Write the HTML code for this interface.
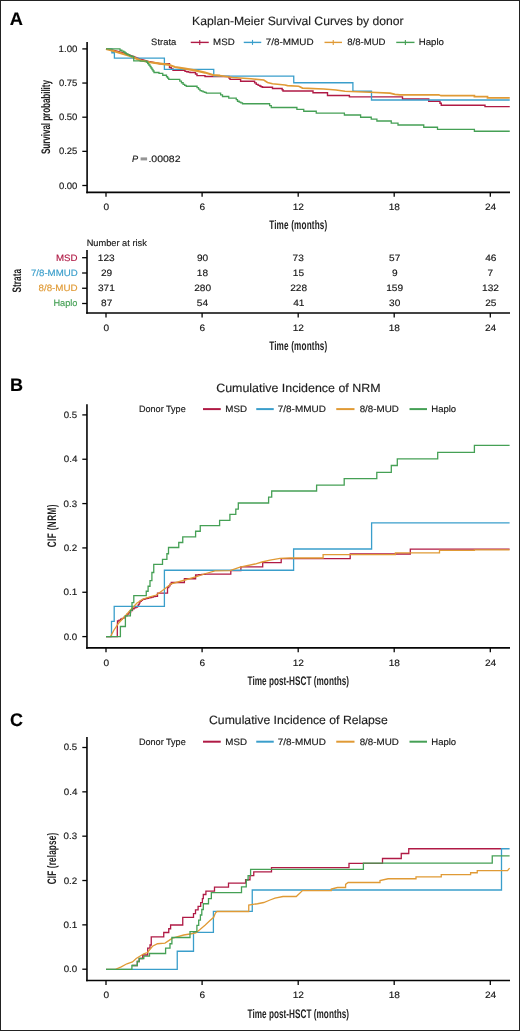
<!DOCTYPE html>
<html><head><meta charset="utf-8"><title>Survival and cumulative incidence by donor</title>
<style>
html,body{margin:0;padding:0;background:#fff;}
body{width:520px;height:1031px;overflow:hidden;}
svg{display:block;font-family:"Liberation Sans", sans-serif;will-change:transform;text-rendering:geometricPrecision;}
</style></head>
<body>
<svg width="520" height="1031" viewBox="0 0 520 1031" fill="#161616">
<rect x="0" y="0" width="520" height="1031" fill="#fff"/>
<text id="lblA" x="9.7" y="25" font-size="18.2" fill="#000" font-weight="bold" textLength="13.19" lengthAdjust="spacingAndGlyphs" stroke="#000" stroke-width="0.15">A</text>
<text id="lblB" x="9.97" y="391" font-size="18.2" fill="#000" font-weight="bold" textLength="13.02" lengthAdjust="spacingAndGlyphs" stroke="#000" stroke-width="0.15">B</text>
<text id="lblC" x="9.94" y="726" font-size="18.2" fill="#000" font-weight="bold" textLength="12.97" lengthAdjust="spacingAndGlyphs" stroke="#000" stroke-width="0.15">C</text>
<text id="titA" x="192.09" y="25" font-size="12" fill="#1e1e1e" textLength="211.46" lengthAdjust="spacingAndGlyphs" stroke="#1e1e1e" stroke-width="0.15">Kaplan-Meier Survival Curves by donor</text>
<text id="legA0" x="151.14" y="45" font-size="9.2" textLength="25.12" lengthAdjust="spacingAndGlyphs" stroke="#161616" stroke-width="0.15">Strata</text>
<line x1="190.75" y1="42.4" x2="208.75" y2="42.4" stroke="#b01a45" stroke-width="1.4"/>
<line x1="199.75" y1="39.9" x2="199.75" y2="44.9" stroke="#b01a45" stroke-width="1.1"/>
<text id="legA1" x="213.12" y="45" font-size="9.2" textLength="21.54" lengthAdjust="spacingAndGlyphs" stroke="#161616" stroke-width="0.15">MSD</text>
<line x1="243.75" y1="42.4" x2="261.25" y2="42.4" stroke="#3a9ecb" stroke-width="1.4"/>
<line x1="252.5" y1="39.9" x2="252.5" y2="44.9" stroke="#3a9ecb" stroke-width="1.1"/>
<text id="legA2" x="265.74" y="45" font-size="9.2" textLength="47.84" lengthAdjust="spacingAndGlyphs" stroke="#161616" stroke-width="0.15">7/8-MMUD</text>
<line x1="324.5" y1="42.4" x2="342" y2="42.4" stroke="#e09a35" stroke-width="1.4"/>
<line x1="333.25" y1="39.9" x2="333.25" y2="44.9" stroke="#e09a35" stroke-width="1.1"/>
<text id="legA3" x="347.15" y="45" font-size="9.2" textLength="38.38" lengthAdjust="spacingAndGlyphs" stroke="#161616" stroke-width="0.15">8/8-MUD</text>
<line x1="396.25" y1="42.4" x2="414.5" y2="42.4" stroke="#45a055" stroke-width="1.4"/>
<line x1="405.38" y1="39.9" x2="405.38" y2="44.9" stroke="#45a055" stroke-width="1.1"/>
<text id="legA4" x="418.78" y="45" font-size="9.2" textLength="25.21" lengthAdjust="spacingAndGlyphs" stroke="#161616" stroke-width="0.15">Haplo</text>
<line x1="87.1" y1="42" x2="87.1" y2="193.15" stroke="#050505" stroke-width="1.6"/>
<line x1="86.3" y1="192.35" x2="510" y2="192.35" stroke="#050505" stroke-width="1.6"/>
<line x1="82.3" y1="48.9" x2="87" y2="48.9" stroke="#050505" stroke-width="1.3"/>
<text id="yA0" x="58.62" y="52" font-size="9.2" textLength="18.79" lengthAdjust="spacingAndGlyphs" stroke="#161616" stroke-width="0.15">1.00</text>
<line x1="82.3" y1="83.05" x2="87" y2="83.05" stroke="#050505" stroke-width="1.3"/>
<text id="yA1" x="58.93" y="86" font-size="9.2" textLength="18.48" lengthAdjust="spacingAndGlyphs" stroke="#161616" stroke-width="0.15">0.75</text>
<line x1="82.3" y1="117.2" x2="87" y2="117.2" stroke="#050505" stroke-width="1.3"/>
<text id="yA2" x="58.92" y="120" font-size="9.2" textLength="18.5" lengthAdjust="spacingAndGlyphs" stroke="#161616" stroke-width="0.15">0.50</text>
<line x1="82.3" y1="151.35" x2="87" y2="151.35" stroke="#050505" stroke-width="1.3"/>
<text id="yA3" x="58.93" y="154" font-size="9.2" textLength="18.48" lengthAdjust="spacingAndGlyphs" stroke="#161616" stroke-width="0.15">0.25</text>
<line x1="82.3" y1="185.5" x2="87" y2="185.5" stroke="#050505" stroke-width="1.3"/>
<text id="yA4" x="58.92" y="189" font-size="9.2" textLength="18.5" lengthAdjust="spacingAndGlyphs" stroke="#161616" stroke-width="0.15">0.00</text>
<line x1="106" y1="192.35" x2="106" y2="196.8" stroke="#050505" stroke-width="1.3"/>
<text id="xA0" x="106.37" y="210" font-size="9.2" text-anchor="middle" textLength="5.63" lengthAdjust="spacingAndGlyphs" stroke="#161616" stroke-width="0.15">0</text>
<line x1="202.1" y1="192.35" x2="202.1" y2="196.8" stroke="#050505" stroke-width="1.3"/>
<text id="xA1" x="202.39" y="210" font-size="9.2" text-anchor="middle" textLength="5.63" lengthAdjust="spacingAndGlyphs" stroke="#161616" stroke-width="0.15">6</text>
<line x1="298.2" y1="192.35" x2="298.2" y2="196.8" stroke="#050505" stroke-width="1.3"/>
<text id="xA2" x="298.39" y="210" font-size="9.2" text-anchor="middle" textLength="11.25" lengthAdjust="spacingAndGlyphs" stroke="#161616" stroke-width="0.15">12</text>
<line x1="394.2" y1="192.35" x2="394.2" y2="196.8" stroke="#050505" stroke-width="1.3"/>
<text id="xA3" x="394.29" y="210" font-size="9.2" text-anchor="middle" textLength="11.25" lengthAdjust="spacingAndGlyphs" stroke="#161616" stroke-width="0.15">18</text>
<line x1="490.3" y1="192.35" x2="490.3" y2="196.8" stroke="#050505" stroke-width="1.3"/>
<text id="xA4" x="490.62" y="210" font-size="9.2" text-anchor="middle" textLength="11.25" lengthAdjust="spacingAndGlyphs" stroke="#161616" stroke-width="0.15">24</text>
<text id="tmA" transform="translate(269.14,229) scale(0.66,1)" x="0" y="0" font-size="12.4" textLength="88.15" lengthAdjust="spacing" font-weight="bold" fill="#222">Time (months)</text>
<text id="ylabA" transform="translate(50,117.02) rotate(-90) scale(0.66,1)" x="0" y="0" font-size="12.4" text-anchor="middle" textLength="112.03" lengthAdjust="spacing" font-weight="bold" fill="#222">Survival probability</text>
<text id="pP" x="132.11" y="162" font-size="9.2" font-style="italic" stroke="#161616" stroke-width="0.15">P</text>
<rect x="140.6" y="157.4" width="6.5" height="3.0" fill="#959595"/>
<text id="pV" x="148.43" y="162" font-size="9.2" textLength="32.14" lengthAdjust="spacingAndGlyphs" stroke="#161616" stroke-width="0.15">.00082</text>
<path d="M106 48.9 L110 49.5 L118 51.5 L125 53.5 L132 56 L140 58.8 L150 61.8 L160 63.8 H169.5 V67.5 H171.25 V68.85 H173 V70.2 H183.5 H185 V71.4 H186.67 V71.77 H188.33 V72.13 H190 V72.5 H194 H195.5 V74.05 H197 V75.6 H205 V76.5 H228 H229 V77.95 H230 V79.4 H240.6 V81.25 H253 H254.62 V82.83 H256.25 V84.4 H258.12 V85.33 H260 V86.25 H261.25 V86.75 H262.5 V87.25 H272.5 V88.5 H281.25 H282.12 V89.75 H283 V91 H313 V92.75 H327.5 V95.5 H349.4 V96.9 H402.5 V99 H428.75 V101.25 H438.75 H440 V103.22 H441.25 V105.2 H485 V106.6 H509.75" fill="none" stroke="#b01a45" stroke-width="1.4"/>
<path d="M106 48.9 H111.9 V52.75 H114.4 V58.1 H164.4 V69.4 H213.75 V76.1 H293.75 V82.75 H352.9 V91.25 H371.5 V100 H509.75" fill="none" stroke="#3a9ecb" stroke-width="1.3"/>
<path d="M106 48.9 L110 50 L120 53 L130 56 L140 60.3 L150 62.2 L160 63.6 L168 64.6 L175 67 L185 68.6 L195 70.4 L205 72.6 L213 75 L220 75.6" fill="none" stroke="#e09a35" stroke-width="2.1"/>
<path d="M220 75.6 L232.5 77.5 L251 78.75 L263.75 80 L267.5 82.5 L272.5 83.75 L285 85 L287.5 85.6 L298.75 86.25 L302.5 88.1 L323.75 89 L336 90 L345 91.25 L370 92.25 L390 93.1 L395 94.4 L400 94.8 H438.75 L441 95.7 H474.4 V96.6 H487.5 V97.9 H509.75" fill="none" stroke="#e09a35" stroke-width="1.7"/>
<path d="M106 48.9 H118.75 H120 V50.25 H121.88 V51.12 H123.75 V52 H125 V53 H126.25 V54 H127.92 V54.83 H129.58 V55.67 H131.25 V56.5 H133.75 V60.9 H140.25 V61.1 H146.5 V62 H147.67 V63.5 H148.83 V65 H150 V66.5 H151 V68 H152 V69.5 H153 V71 H154 V72.5 H159 V73.4 H162.75 V75.25 H166.5 V76.75 H167.62 V78.08 H168.75 V79.4 H178.1 H179.77 V81.07 H181.43 V82.73 H183.1 V84.4 H184.68 V85.33 H186.25 V86.25 H195.6 H197.07 V87.7 H198.53 V89.15 H200 V90.6 H201.56 V91.22 H203.12 V91.85 H204.69 V92.47 H206.25 V93.1 H218.75 H220.62 V94.8 H222.5 V96.5 H228.75 V98.1 H235 H236.25 V99.67 H237.5 V101.25 H239.17 V102.08 H240.83 V102.92 H242.5 V103.75 H268 H269.62 V105.62 H271.25 V107.5 H296.9 V109.4 H303.75 V111.25 H316.25 V113.1 H344.4 V115 H360.6 V117.25 H371.25 V119.1 H376.9 V121 H391.25 V123.1 H398 V125 H423.75 V127.25 H437.5 V129.4 H474.4 V131.25 H509.75" fill="none" stroke="#45a055" stroke-width="1.3"/>
<text id="nar" x="86.66" y="246" font-size="9.2" textLength="60.11" lengthAdjust="spacingAndGlyphs" stroke="#161616" stroke-width="0.15">Number at risk</text>
<line x1="87" y1="250" x2="87" y2="313.85" stroke="#050505" stroke-width="1.6"/>
<line x1="86.2" y1="313.05" x2="510" y2="313.05" stroke="#050505" stroke-width="1.6"/>
<line x1="82.1" y1="257.7" x2="87" y2="257.7" stroke="#050505" stroke-width="1.3"/>
<text id="rl0" x="56.05" y="261" font-size="9.2" fill="#b01a45" textLength="21.55" lengthAdjust="spacingAndGlyphs" stroke="#b01a45" stroke-width="0.15">MSD</text>
<text id="rn00" x="106.3" y="261" font-size="9.2" text-anchor="middle" textLength="16.88" lengthAdjust="spacingAndGlyphs" stroke="#161616" stroke-width="0.15">123</text>
<text id="rn01" x="202.57" y="261" font-size="9.2" text-anchor="middle" textLength="11.25" lengthAdjust="spacingAndGlyphs" stroke="#161616" stroke-width="0.15">90</text>
<text id="rn02" x="298.15" y="261" font-size="9.2" text-anchor="middle" textLength="11.25" lengthAdjust="spacingAndGlyphs" stroke="#161616" stroke-width="0.15">73</text>
<text id="rn03" x="394.66" y="261" font-size="9.2" text-anchor="middle" textLength="11.25" lengthAdjust="spacingAndGlyphs" stroke="#161616" stroke-width="0.15">57</text>
<text id="rn04" x="490.79" y="261" font-size="9.2" text-anchor="middle" textLength="11.25" lengthAdjust="spacingAndGlyphs" stroke="#161616" stroke-width="0.15">46</text>
<line x1="82.1" y1="273" x2="87" y2="273" stroke="#050505" stroke-width="1.3"/>
<text id="rl1" x="30.98" y="276" font-size="9.2" fill="#3a9ecb" textLength="46.72" lengthAdjust="spacingAndGlyphs" stroke="#3a9ecb" stroke-width="0.15">7/8-MMUD</text>
<text id="rn10" x="106.5" y="276" font-size="9.2" text-anchor="middle" textLength="11.25" lengthAdjust="spacingAndGlyphs" stroke="#161616" stroke-width="0.15">29</text>
<text id="rn11" x="202.42" y="276" font-size="9.2" text-anchor="middle" textLength="11.25" lengthAdjust="spacingAndGlyphs" stroke="#161616" stroke-width="0.15">18</text>
<text id="rn12" x="298.4" y="276" font-size="9.2" text-anchor="middle" textLength="11.25" lengthAdjust="spacingAndGlyphs" stroke="#161616" stroke-width="0.15">15</text>
<text id="rn13" x="394.84" y="276" font-size="9.2" text-anchor="middle" textLength="5.63" lengthAdjust="spacingAndGlyphs" stroke="#161616" stroke-width="0.15">9</text>
<text id="rn14" x="490.25" y="276" font-size="9.2" text-anchor="middle" textLength="5.63" lengthAdjust="spacingAndGlyphs" stroke="#161616" stroke-width="0.15">7</text>
<line x1="82.1" y1="288.25" x2="87" y2="288.25" stroke="#050505" stroke-width="1.3"/>
<text id="rl2" x="38.51" y="291" font-size="9.2" fill="#e09a35" textLength="39.18" lengthAdjust="spacingAndGlyphs" stroke="#e09a35" stroke-width="0.15">8/8-MUD</text>
<text id="rn20" x="106.38" y="291" font-size="9.2" text-anchor="middle" textLength="16.88" lengthAdjust="spacingAndGlyphs" stroke="#161616" stroke-width="0.15">371</text>
<text id="rn21" x="202.61" y="291" font-size="9.2" text-anchor="middle" textLength="16.88" lengthAdjust="spacingAndGlyphs" stroke="#161616" stroke-width="0.15">280</text>
<text id="rn22" x="298.6" y="291" font-size="9.2" text-anchor="middle" textLength="16.88" lengthAdjust="spacingAndGlyphs" stroke="#161616" stroke-width="0.15">228</text>
<text id="rn23" x="394.64" y="291" font-size="9.2" text-anchor="middle" textLength="16.88" lengthAdjust="spacingAndGlyphs" stroke="#161616" stroke-width="0.15">159</text>
<text id="rn24" x="490.53" y="291" font-size="9.2" text-anchor="middle" textLength="16.88" lengthAdjust="spacingAndGlyphs" stroke="#161616" stroke-width="0.15">132</text>
<line x1="82.1" y1="303.5" x2="87" y2="303.5" stroke="#050505" stroke-width="1.3"/>
<text id="rl3" x="53.41" y="306" font-size="9.2" fill="#45a055" textLength="24.02" lengthAdjust="spacingAndGlyphs" stroke="#45a055" stroke-width="0.15">Haplo</text>
<text id="rn30" x="106.66" y="306" font-size="9.2" text-anchor="middle" textLength="11.25" lengthAdjust="spacingAndGlyphs" stroke="#161616" stroke-width="0.15">87</text>
<text id="rn31" x="202.46" y="306" font-size="9.2" text-anchor="middle" textLength="11.25" lengthAdjust="spacingAndGlyphs" stroke="#161616" stroke-width="0.15">54</text>
<text id="rn32" x="298.79" y="306" font-size="9.2" text-anchor="middle" textLength="11.25" lengthAdjust="spacingAndGlyphs" stroke="#161616" stroke-width="0.15">41</text>
<text id="rn33" x="394.68" y="306" font-size="9.2" text-anchor="middle" textLength="11.25" lengthAdjust="spacingAndGlyphs" stroke="#161616" stroke-width="0.15">30</text>
<text id="rn34" x="490.86" y="306" font-size="9.2" text-anchor="middle" textLength="11.25" lengthAdjust="spacingAndGlyphs" stroke="#161616" stroke-width="0.15">25</text>
<line x1="106" y1="313.05" x2="106" y2="317.5" stroke="#050505" stroke-width="1.3"/>
<text id="xR0" x="106.37" y="331" font-size="9.2" text-anchor="middle" textLength="5.63" lengthAdjust="spacingAndGlyphs" stroke="#161616" stroke-width="0.15">0</text>
<line x1="202.1" y1="313.05" x2="202.1" y2="317.5" stroke="#050505" stroke-width="1.3"/>
<text id="xR1" x="202.39" y="331" font-size="9.2" text-anchor="middle" textLength="5.63" lengthAdjust="spacingAndGlyphs" stroke="#161616" stroke-width="0.15">6</text>
<line x1="298.2" y1="313.05" x2="298.2" y2="317.5" stroke="#050505" stroke-width="1.3"/>
<text id="xR2" x="298.39" y="331" font-size="9.2" text-anchor="middle" textLength="11.25" lengthAdjust="spacingAndGlyphs" stroke="#161616" stroke-width="0.15">12</text>
<line x1="394.2" y1="313.05" x2="394.2" y2="317.5" stroke="#050505" stroke-width="1.3"/>
<text id="xR3" x="394.29" y="331" font-size="9.2" text-anchor="middle" textLength="11.25" lengthAdjust="spacingAndGlyphs" stroke="#161616" stroke-width="0.15">18</text>
<line x1="490.3" y1="313.05" x2="490.3" y2="317.5" stroke="#050505" stroke-width="1.3"/>
<text id="xR4" x="490.62" y="331" font-size="9.2" text-anchor="middle" textLength="11.25" lengthAdjust="spacingAndGlyphs" stroke="#161616" stroke-width="0.15">24</text>
<text id="tmR" transform="translate(269.14,350) scale(0.66,1)" x="0" y="0" font-size="12.4" textLength="88.15" lengthAdjust="spacing" font-weight="bold" fill="#222">Time (months)</text>
<text id="ylabR" transform="translate(21,280.71) rotate(-90) scale(0.66,1)" x="0" y="0" font-size="12.4" text-anchor="middle" textLength="35.92" lengthAdjust="spacing" font-weight="bold" fill="#222">Strata</text>
<text id="titB" x="216.21" y="392" font-size="12" fill="#1e1e1e" textLength="164.3" lengthAdjust="spacingAndGlyphs" stroke="#1e1e1e" stroke-width="0.15">Cumulative Incidence of NRM</text>
<text id="legB0" x="138.93" y="412" font-size="9.2" textLength="46.77" lengthAdjust="spacingAndGlyphs" stroke="#161616" stroke-width="0.15">Donor Type</text>
<line x1="203" y1="409.1" x2="220.75" y2="409.1" stroke="#b01a45" stroke-width="2"/>
<text id="legB1" x="225.25" y="412" font-size="9.2" textLength="21.71" lengthAdjust="spacingAndGlyphs" stroke="#161616" stroke-width="0.15">MSD</text>
<line x1="256.25" y1="409.1" x2="273.75" y2="409.1" stroke="#3a9ecb" stroke-width="2"/>
<text id="legB2" x="277.79" y="412" font-size="9.2" textLength="48.05" lengthAdjust="spacingAndGlyphs" stroke="#161616" stroke-width="0.15">7/8-MMUD</text>
<line x1="336.25" y1="409.1" x2="354.5" y2="409.1" stroke="#e09a35" stroke-width="2"/>
<text id="legB3" x="359.65" y="412" font-size="9.2" textLength="39.23" lengthAdjust="spacingAndGlyphs" stroke="#161616" stroke-width="0.15">8/8-MUD</text>
<line x1="409.5" y1="409.1" x2="427" y2="409.1" stroke="#45a055" stroke-width="2"/>
<text id="legB4" x="431.27" y="412" font-size="9.2" textLength="24.88" lengthAdjust="spacingAndGlyphs" stroke="#161616" stroke-width="0.15">Haplo</text>
<line x1="86.95" y1="404.3" x2="86.95" y2="648.7" stroke="#050505" stroke-width="1.6"/>
<line x1="86.15" y1="647.9" x2="510" y2="647.9" stroke="#050505" stroke-width="1.6"/>
<line x1="82.3" y1="636.6" x2="87" y2="636.6" stroke="#050505" stroke-width="1.3"/>
<text id="yB0" x="63.67" y="640" font-size="9.2" textLength="13.52" lengthAdjust="spacingAndGlyphs" stroke="#161616" stroke-width="0.15">0.0</text>
<line x1="82.3" y1="592.26" x2="87" y2="592.26" stroke="#050505" stroke-width="1.3"/>
<text id="yB1" x="63.58" y="595" font-size="9.2" textLength="13.73" lengthAdjust="spacingAndGlyphs" stroke="#161616" stroke-width="0.15">0.1</text>
<line x1="82.3" y1="547.92" x2="87" y2="547.92" stroke="#050505" stroke-width="1.3"/>
<text id="yB2" x="63.65" y="551" font-size="9.2" textLength="13.65" lengthAdjust="spacingAndGlyphs" stroke="#161616" stroke-width="0.15">0.2</text>
<line x1="82.3" y1="503.58" x2="87" y2="503.58" stroke="#050505" stroke-width="1.3"/>
<text id="yB3" x="63.57" y="507" font-size="9.2" textLength="13.52" lengthAdjust="spacingAndGlyphs" stroke="#161616" stroke-width="0.15">0.3</text>
<line x1="82.3" y1="459.24" x2="87" y2="459.24" stroke="#050505" stroke-width="1.3"/>
<text id="yB4" x="63.72" y="462" font-size="9.2" textLength="13.62" lengthAdjust="spacingAndGlyphs" stroke="#161616" stroke-width="0.15">0.4</text>
<line x1="82.3" y1="414.9" x2="87" y2="414.9" stroke="#050505" stroke-width="1.3"/>
<text id="yB5" x="63.66" y="418" font-size="9.2" textLength="13.42" lengthAdjust="spacingAndGlyphs" stroke="#161616" stroke-width="0.15">0.5</text>
<line x1="106" y1="647.9" x2="106" y2="652.3" stroke="#050505" stroke-width="1.3"/>
<text id="xB0" x="106.37" y="666" font-size="9.2" text-anchor="middle" textLength="5.63" lengthAdjust="spacingAndGlyphs" stroke="#161616" stroke-width="0.15">0</text>
<line x1="202.1" y1="647.9" x2="202.1" y2="652.3" stroke="#050505" stroke-width="1.3"/>
<text id="xB1" x="202.39" y="666" font-size="9.2" text-anchor="middle" textLength="5.63" lengthAdjust="spacingAndGlyphs" stroke="#161616" stroke-width="0.15">6</text>
<line x1="298.2" y1="647.9" x2="298.2" y2="652.3" stroke="#050505" stroke-width="1.3"/>
<text id="xB2" x="298.39" y="666" font-size="9.2" text-anchor="middle" textLength="11.25" lengthAdjust="spacingAndGlyphs" stroke="#161616" stroke-width="0.15">12</text>
<line x1="394.2" y1="647.9" x2="394.2" y2="652.3" stroke="#050505" stroke-width="1.3"/>
<text id="xB3" x="394.29" y="666" font-size="9.2" text-anchor="middle" textLength="11.25" lengthAdjust="spacingAndGlyphs" stroke="#161616" stroke-width="0.15">18</text>
<line x1="490.3" y1="647.9" x2="490.3" y2="652.3" stroke="#050505" stroke-width="1.3"/>
<text id="xB4" x="490.62" y="666" font-size="9.2" text-anchor="middle" textLength="11.25" lengthAdjust="spacingAndGlyphs" stroke="#161616" stroke-width="0.15">24</text>
<text id="tmB" transform="translate(247.6,685) scale(0.66,1)" x="0" y="0" font-size="12.4" textLength="153.65" lengthAdjust="spacing" font-weight="bold" fill="#222">Time post-HSCT (months)</text>
<text id="ylabB" transform="translate(56,525.98) rotate(-90) scale(0.66,1)" x="0" y="0" font-size="12.4" text-anchor="middle" textLength="64.74" lengthAdjust="spacing" font-weight="bold" fill="#222">CIF (NRM)</text>
<path d="M106 636.6 H117.3 V627.3 H117.35 V625.72 H117.4 V624.15 H117.45 V622.58 H117.5 V621 H119.06 V620.12 H120.62 V619.25 H122.19 V618.38 H123.75 V617.5 H125.42 V615.83 H127.08 V614.17 H128.75 V612.5 H130.62 V610.62 H132.5 V608.75 H134.17 V607.92 H135.83 V607.08 H137.5 V606.25 H138.33 V604.58 H139.17 V602.92 H140 V601.25 H141.25 V600.33 H142.5 V599.4 H144 V599.02 H145.5 V598.64 H147 V598.26 H148.5 V597.88 H150 V597.5 H151.67 V597.08 H153.33 V596.67 H155 V596.25 H157.5 V593.1 H167.5 V587.5 H168.75 V585.83 H170 V584.17 H171.25 V582.5 H184.4 V578.75 H195.6 V575 H197.17 V574.87 H198.73 V574.73 H200.3 V574.6 H201.87 V574.47 H203.43 V574.33 H205 V574.2 H230.8 V570.6 H240.9 V566.8 H262.7 V562.7 H281.2 V558.6 H350.2 V554 H410.3 V549.2 H509.6" fill="none" stroke="#b01a45" stroke-width="1.3"/>
<path d="M106 636.6 H111.5 V621.4 H114.2 V606.3 H164.4 V570.25 H293.6 V549 H371.6 V522.8 H509.6" fill="none" stroke="#3a9ecb" stroke-width="1.3"/>
<path d="M106 636.6 H110.5 L114 630 L118.75 623 L125 616.25 L131 609.5 L137 603 L143.75 598.75 L150 596.9 L156.25 595 L162.5 590.6 L171.25 583.75 L185 580 L195.6 576.9 L205 573.75 L215 570.8 L230 570.6 L240 567.1 L255 564 L262 562 L270 560.2 L280 558.3 L290 558 H323.1 V554.6 H395.4 V552.8 H439.5 V550.4 H474.4 V549.9 H509.6" fill="none" stroke="#e09a35" stroke-width="1.3"/>
<path d="M106 636.6 H120.4 V626.5 H125.4 V615.8 H130.4 V610.4 H132 V602.7 H133.8 V595.6 H146.25 V591.25 H148.1 V586.25 H150 V580.6 H151.9 V572.5 H153.75 V564.4 H162.5 V559.4 H166.9 V553.75 H168.5 V547.5 H178.75 V542.5 H182.75 V536.9 H195.6 V531.25 H200.25 V525.6 H219.6 V520.4 H229.9 V514.4 H235.8 V509.1 H238.3 V503 H268.6 V497.1 H271.7 V491 H316.6 V485.2 H344.2 V478.6 H376.8 V472.3 H391.3 V465.5 H397.3 V458.9 H437.7 V452.3 H474.4 V445.3 H509.6" fill="none" stroke="#45a055" stroke-width="1.3"/>
<text id="titC" x="209.05" y="724" font-size="12" fill="#1e1e1e" textLength="178.7" lengthAdjust="spacingAndGlyphs" stroke="#1e1e1e" stroke-width="0.15">Cumulative Incidence of Relapse</text>
<text id="legC0" x="138.93" y="745" font-size="9.2" textLength="46.77" lengthAdjust="spacingAndGlyphs" stroke="#161616" stroke-width="0.15">Donor Type</text>
<line x1="203" y1="741.7" x2="220.75" y2="741.7" stroke="#b01a45" stroke-width="2"/>
<text id="legC1" x="225.25" y="745" font-size="9.2" textLength="21.71" lengthAdjust="spacingAndGlyphs" stroke="#161616" stroke-width="0.15">MSD</text>
<line x1="256.25" y1="741.7" x2="273.75" y2="741.7" stroke="#3a9ecb" stroke-width="2"/>
<text id="legC2" x="277.79" y="745" font-size="9.2" textLength="48.05" lengthAdjust="spacingAndGlyphs" stroke="#161616" stroke-width="0.15">7/8-MMUD</text>
<line x1="336.25" y1="741.7" x2="354.5" y2="741.7" stroke="#e09a35" stroke-width="2"/>
<text id="legC3" x="359.65" y="745" font-size="9.2" textLength="39.23" lengthAdjust="spacingAndGlyphs" stroke="#161616" stroke-width="0.15">8/8-MUD</text>
<line x1="409.5" y1="741.7" x2="427" y2="741.7" stroke="#45a055" stroke-width="2"/>
<text id="legC4" x="431.27" y="745" font-size="9.2" textLength="24.88" lengthAdjust="spacingAndGlyphs" stroke="#161616" stroke-width="0.15">Haplo</text>
<line x1="86.95" y1="736.9" x2="86.95" y2="981.3" stroke="#050505" stroke-width="1.6"/>
<line x1="86.15" y1="980.5" x2="510" y2="980.5" stroke="#050505" stroke-width="1.6"/>
<line x1="82.3" y1="969.2" x2="87" y2="969.2" stroke="#050505" stroke-width="1.3"/>
<text id="yC0" x="63.67" y="972" font-size="9.2" textLength="13.52" lengthAdjust="spacingAndGlyphs" stroke="#161616" stroke-width="0.15">0.0</text>
<line x1="82.3" y1="924.86" x2="87" y2="924.86" stroke="#050505" stroke-width="1.3"/>
<text id="yC1" x="63.58" y="928" font-size="9.2" textLength="13.73" lengthAdjust="spacingAndGlyphs" stroke="#161616" stroke-width="0.15">0.1</text>
<line x1="82.3" y1="880.52" x2="87" y2="880.52" stroke="#050505" stroke-width="1.3"/>
<text id="yC2" x="63.65" y="884" font-size="9.2" textLength="13.65" lengthAdjust="spacingAndGlyphs" stroke="#161616" stroke-width="0.15">0.2</text>
<line x1="82.3" y1="836.18" x2="87" y2="836.18" stroke="#050505" stroke-width="1.3"/>
<text id="yC3" x="63.57" y="839" font-size="9.2" textLength="13.52" lengthAdjust="spacingAndGlyphs" stroke="#161616" stroke-width="0.15">0.3</text>
<line x1="82.3" y1="791.84" x2="87" y2="791.84" stroke="#050505" stroke-width="1.3"/>
<text id="yC4" x="63.72" y="795" font-size="9.2" textLength="13.62" lengthAdjust="spacingAndGlyphs" stroke="#161616" stroke-width="0.15">0.4</text>
<line x1="82.3" y1="747.5" x2="87" y2="747.5" stroke="#050505" stroke-width="1.3"/>
<text id="yC5" x="63.66" y="750" font-size="9.2" textLength="13.42" lengthAdjust="spacingAndGlyphs" stroke="#161616" stroke-width="0.15">0.5</text>
<line x1="106" y1="980.5" x2="106" y2="984.9" stroke="#050505" stroke-width="1.3"/>
<text id="xC0" x="106.37" y="998" font-size="9.2" text-anchor="middle" textLength="5.63" lengthAdjust="spacingAndGlyphs" stroke="#161616" stroke-width="0.15">0</text>
<line x1="202.1" y1="980.5" x2="202.1" y2="984.9" stroke="#050505" stroke-width="1.3"/>
<text id="xC1" x="202.39" y="998" font-size="9.2" text-anchor="middle" textLength="5.63" lengthAdjust="spacingAndGlyphs" stroke="#161616" stroke-width="0.15">6</text>
<line x1="298.2" y1="980.5" x2="298.2" y2="984.9" stroke="#050505" stroke-width="1.3"/>
<text id="xC2" x="298.39" y="998" font-size="9.2" text-anchor="middle" textLength="11.25" lengthAdjust="spacingAndGlyphs" stroke="#161616" stroke-width="0.15">12</text>
<line x1="394.2" y1="980.5" x2="394.2" y2="984.9" stroke="#050505" stroke-width="1.3"/>
<text id="xC3" x="394.29" y="998" font-size="9.2" text-anchor="middle" textLength="11.25" lengthAdjust="spacingAndGlyphs" stroke="#161616" stroke-width="0.15">18</text>
<line x1="490.3" y1="980.5" x2="490.3" y2="984.9" stroke="#050505" stroke-width="1.3"/>
<text id="xC4" x="490.62" y="998" font-size="9.2" text-anchor="middle" textLength="11.25" lengthAdjust="spacingAndGlyphs" stroke="#161616" stroke-width="0.15">24</text>
<text id="tmC" transform="translate(247.6,1018) scale(0.66,1)" x="0" y="0" font-size="12.4" textLength="153.65" lengthAdjust="spacing" font-weight="bold" fill="#222">Time post-HSCT (months)</text>
<text id="ylabC" transform="translate(56,858.55) rotate(-90) scale(0.66,1)" x="0" y="0" font-size="12.4" text-anchor="middle" textLength="77.95" lengthAdjust="spacing" font-weight="bold" fill="#222">CIF (relapse)</text>
<path d="M131.9 965.5 H137.3 V961.5 H139.2 V958.5 H142.7 V955 H147.7 V948.1 H150 V945 H151.25 V936.9 H163.75 V932.5 H168.75 V928.75 H170.6 V925 H182.75 V917.4 H193.5 V913.6 H195.5 V909.8 H198.1 V906.35 H200.7 V902.6 H202.4 V898.6 H203.3 V894.5 H205.9 V891.05 H214.5 V887.2 H228.5 V883.1 H245.6 V879.75 H250 V875.6 H253.75 V871.9 H271.5 V867.6 H349 V863.4 H382.5 V858.5 H401.25 V853.5 H408.75 V848.75 H501.5" fill="none" stroke="#b01a45" stroke-width="1.3"/>
<path d="M106 969.3 H177.25 V951.25 H193.5 V932.4 H213.4 V911.3 H252.25 V890 H501.5 V848.75 H509.6" fill="none" stroke="#3a9ecb" stroke-width="1.3"/>
<path d="M106 969.3 H115.5 L121.25 966.9 L126.9 963.8 L132.5 961.9 L136.2 958.5 L143.8 953.8 L147.5 952.5 L152.5 946.25 L157.5 943.75 L165 943.1 L168.75 940.6 L172.5 938.1 L183.75 935 L190 934 L195.8 932.9 L200 929.5 L205 925.2 L210 920.5 L213.7 917.3 L215.4 913 L217 911.5 H248.75 V905 L257.5 903.75 L263.75 902.5 L270 900 L275 898.1 L283 896.5 H296.25 L302.5 890.6 H331.25 V889.1 L337.5 887.5 H345.6 V884.4 L348.1 882.5 H380 V880.6 L388.1 878.75 H416 V876.9 H441.25 V874.7 H470.6 V872.75 H477.25 V870.6 H507.5 L509.6 868.1" fill="none" stroke="#e09a35" stroke-width="1.3"/>
<path d="M106 969.3 H131.9 V965.5 H137.3 V961.5 H139.2 V958.5 H143.8 V956.2 H149.5 V953.5 H165.6 V948.1 H170 V943.75 H171.9 V937.5 H190 V931.6 H196.9 V925.4 H198.7 V920.2 H200.4 V915 H201.8 V909.5 H203.3 V903.75 H208.5 V898.6 H211.35 V892.6 H241.5 V886.9 H246.25 V880 H248.1 V875.6 H250.6 V869.3 H363.4 V863.1 H492.25 V855.9 H509.6" fill="none" stroke="#45a055" stroke-width="1.3"/>
<rect x="0.5" y="0.5" width="519" height="1030" fill="none" stroke="#222" stroke-width="1"/>
</svg>
</body></html>
